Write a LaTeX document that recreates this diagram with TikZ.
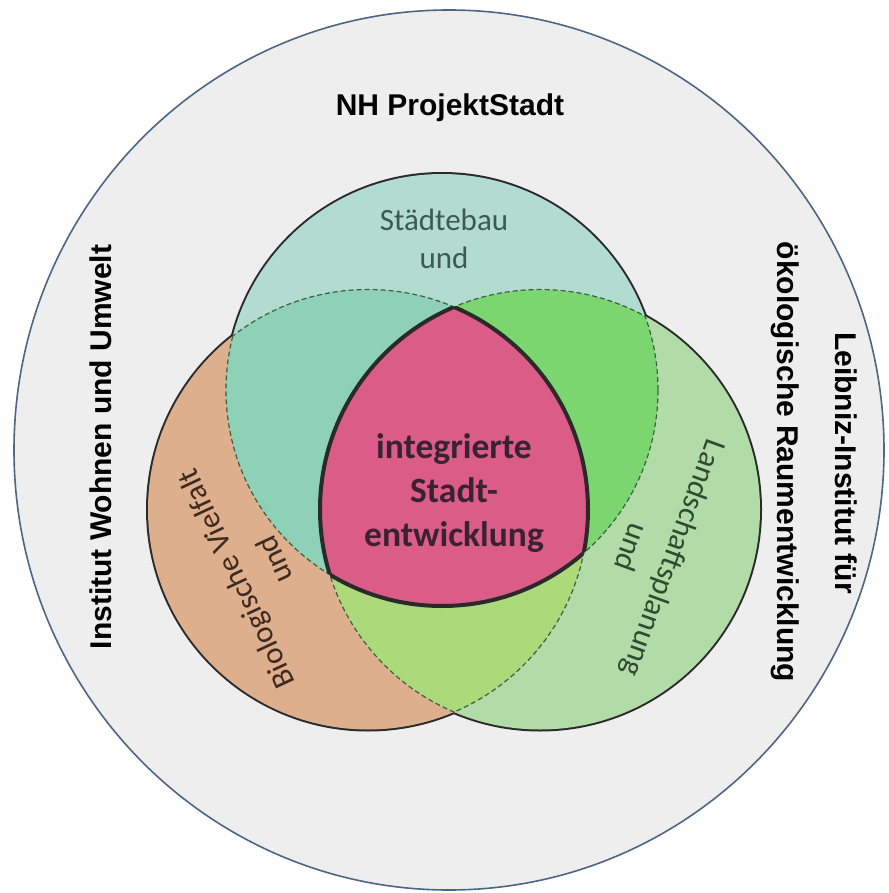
\documentclass[tikz,border=0pt]{standalone}
\usepackage{fontspec}
\setmainfont{Carlito}
\newfontfamily\arialfont{Liberation Sans}
\definecolor{outerfill}{HTML}{EEEEEE}
\definecolor{outerline}{HTML}{4E6684}
\definecolor{tcol}{HTML}{B2DCD0}
\definecolor{lcol}{HTML}{DEAF8C}
\definecolor{rcol}{HTML}{B1DBA7}
\definecolor{tlcol}{HTML}{8FD1B6}
\definecolor{trcol}{HTML}{7CD670}
\definecolor{lrcol}{HTML}{ACD97A}
\definecolor{pinkcol}{HTML}{DA5C87}
\definecolor{outlinecol}{HTML}{2A2A2A}
\definecolor{dashcol}{HTML}{3C5F46}
\definecolor{stcol}{HTML}{3C5A50}
\definecolor{biocol}{HTML}{3C2A20}
\definecolor{lacol}{HTML}{2F4A30}
\definecolor{centcol}{HTML}{3A232D}
\tikzset{
  bigbold/.style={font=\arialfont\bfseries\fontsize{30}{36}\selectfont, text=black, inner sep=0pt},
  lab/.style={font=\fontsize{31}{37}\selectfont, inner sep=0pt},
  centlab/.style={font=\bfseries\fontsize{35.5}{42}\selectfont, text=centcol, inner sep=0pt, anchor=base},
  dashline/.style={draw=dashcol, line width=1.2pt, dash pattern=on 5pt off 3pt},
  pinkline/.style={draw=outlinecol, line width=4pt},
  rimline/.style={draw=outlinecol, line width=4pt}
}
\begin{document}
\begin{tikzpicture}[x=1pt,y=-1pt]
\useasboundingbox (0,0) rectangle (888,893);
\fill[white] (0,0) rectangle (888,893);
% outer ellipse
\coordinate (oc) at (449,450);
\filldraw[fill=outerfill, draw=outerline, line width=1.6pt] (oc) ellipse[x radius=435pt, y radius=440pt];
% circle centres
\coordinate (ct) at (442,390);
\coordinate (cl) at (368,509.5);
\coordinate (cr) at (540,509.5);
% solid outer outline (outer half stays visible)
\path[rimline] (ct) circle[radius=216pt];
\path[rimline] (cl) circle[radius=220pt];
\path[rimline] (cr) circle[radius=220pt];
% single fills
\fill[tcol] (ct) circle[radius=216pt];
\fill[lcol] (cl) circle[radius=220pt];
\fill[rcol] (cr) circle[radius=220pt];
% pairwise intersections
\begin{scope}
  \clip (ct) circle[radius=216pt];
  \fill[tlcol] (cl) circle[radius=220pt];
  \fill[trcol] (cr) circle[radius=220pt];
\end{scope}
\begin{scope}
  \clip (cl) circle[radius=220pt];
  \clip (cr) circle[radius=220pt];
  \fill[lrcol] (cl) circle[radius=220pt];
  \clip (ct) circle[radius=216pt];
  \fill[pinkcol] (cl) circle[radius=220pt];
\end{scope}
% dashed inner arcs
\begin{scope}
  \clip (cl) circle[radius=220pt];
  \path[dashline] (ct) circle[radius=216pt];
  \path[dashline] (cr) circle[radius=220pt];
\end{scope}
\begin{scope}
  \clip (ct) circle[radius=216pt];
  \path[dashline] (cl) circle[radius=220pt];
  \path[dashline] (cr) circle[radius=220pt];
\end{scope}
\begin{scope}
  \clip (cr) circle[radius=220pt];
  \path[dashline] (ct) circle[radius=216pt];
  \path[dashline] (cl) circle[radius=220pt];
\end{scope}
% thick outline of the centre region
\begin{scope}
  \clip (ct) circle[radius=216pt];
  \clip (cl) circle[radius=220pt];
  \path[pinkline] (cr) circle[radius=220pt];
\end{scope}
\begin{scope}
  \clip (ct) circle[radius=216pt];
  \clip (cr) circle[radius=220pt];
  \path[pinkline] (cl) circle[radius=220pt];
\end{scope}
\begin{scope}
  \clip (cl) circle[radius=220pt];
  \clip (cr) circle[radius=220pt];
  \path[pinkline] (ct) circle[radius=216pt];
\end{scope}
% outer texts
\node[bigbold, anchor=base] (nh) at (450,116) {NH ProjektStadt};
\node[bigbold, rotate=90] (iwu) at (101,447) {Institut Wohnen und Umwelt};
\node[bigbold, rotate=-90] (leib1) at (846,463) {Leibniz-Institut für};
\node[bigbold, rotate=-90] (leib2) at (785,462) {ökologische Raumentwicklung};
% circle labels
\node[lab, text=stcol, anchor=base] (st1) at (444,230) {Städtebau};
\node[lab, text=stcol, anchor=base] (st2) at (444,268) {und};
\node[lab, text=biocol, rotate=115] (bio1) at (238,578) {Biologische Vielfalt};
\node[lab, text=biocol, rotate=115] (bio2) at (274,560) {und};
\node[lab, text=lacol, rotate=-110] (la1) at (672,558) {Landschaftsplanung};
\node[lab, text=lacol, rotate=-110] (la2) at (632,548) {und};
% centre label
\node[centlab] (c1) at (454,458) {integrierte};
\node[centlab] (c2) at (454,502) {Stadt-};
\node[centlab] (c3) at (454,546) {entwicklung};
\end{tikzpicture}
\end{document}
